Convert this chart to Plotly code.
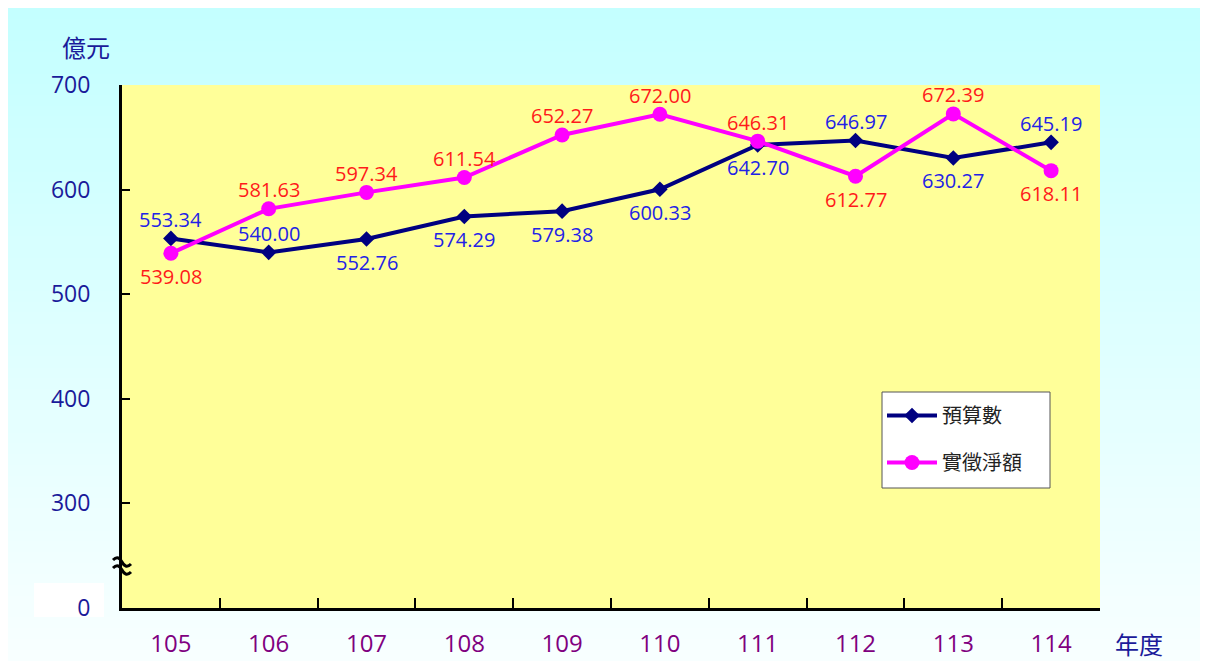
import plotly.graph_objects as go

years = ["105", "106", "107", "108", "109", "110", "111", "112", "113", "114"]
budget = [553.34, 540.00, 552.76, 574.29, 579.38, 600.33, 642.70, 646.97, 630.27, 645.19]
actual = [539.08, 581.63, 597.34, 611.54, 652.27, 672.00, 646.31, 612.77, 672.39, 618.11]
budget_side = ["up", "up", "down", "down", "down", "down", "down", "up", "down", "up"]
actual_side = ["down", "up", "up", "up", "up", "up", "up", "down", "up", "down"]
y_tickvals = [200, 300, 400, 500, 600, 700]
y_ticktext = ["0", "300", "400", "500", "600", "700"]

OFF = 8  # page body margin
W, H = 1208 - OFF, 661 - OFF
# plot area in reference (screen) pixels
L, R, T, B = 122, 1100, 85, 608
FONT = "Open Sans, Noto Sans CJK TC, sans-serif"
CJK = "Noto Sans CJK TC, sans-serif"

fig = go.Figure()
fig.add_trace(go.Scatter(
    x=years, y=budget, name="預算數", mode="lines+markers",
    line=dict(color="#000080", width=4),
    marker=dict(symbol="diamond", size=12, color="#000080"),
    legendgroup="a", cliponaxis=False,
))
fig.add_trace(go.Scatter(
    x=years, y=actual, name="實徵淨額", mode="lines+markers",
    line=dict(color="#FF00FF", width=4),
    marker=dict(symbol="circle", size=15, color="#FF00FF"),
    legendgroup="b", cliponaxis=False,
))

def px_x(p):
    return (p - L) / (R - L)

def px_y(p):
    return (B - p) / (B - T)

annotations = []
for vals, sides, color in ((budget, budget_side, "#2222E6"), (actual, actual_side, "#FF1A1A")):
    for i, (v, s) in enumerate(zip(vals, sides)):
        annotations.append(dict(
            x=i, y=v, xref="x", yref="y", text=f"{v:.2f}", showarrow=False,
            xanchor="center", yanchor="middle", yshift=19 if s == "up" else -23,
            font=dict(size=20, color=color, family=FONT)))

annotations += [
    dict(text="億元", xref="paper", yref="paper", x=px_x(86), y=px_y(47),
         xanchor="center", yanchor="middle", showarrow=False,
         font=dict(size=24, color="#1A1A9A", family=CJK)),
    dict(text="年度", xref="paper", yref="paper", x=px_x(1139), y=px_y(643),
         xanchor="center", yanchor="middle", showarrow=False,
         font=dict(size=24, color="#1A1A9A", family=CJK)),
]

shapes = []
# gradient background strips
top, bottom = OFF, 661
n = 60
c0 = (196, 255, 255)
c1 = (248, 255, 255)
for i in range(n):
    y0p = top + (bottom - top) * i / n
    y1p = top + (bottom - top) * (i + 1) / n + 1
    t = i / (n - 1)
    col = tuple(round(c0[k] + (c1[k] - c0[k]) * t) for k in range(3))
    shapes.append(dict(type="rect", xref="paper", yref="paper", layer="below",
                       x0=px_x(0), x1=px_x(1220), y0=px_y(y1p), y1=px_y(y0p),
                       line=dict(width=0), fillcolor="rgb(%d,%d,%d)" % col))
# white box behind "0"
shapes.append(dict(type="rect", xref="paper", yref="paper", layer="below",
                   x0=px_x(34), x1=px_x(104), y0=px_y(617), y1=px_y(583),
                   line=dict(width=0), fillcolor="#FFFFFF"))
# yellow plot area
shapes.append(dict(type="rect", xref="paper", yref="paper", layer="below",
                   x0=0, x1=1, y0=0, y1=1, line=dict(width=0), fillcolor="#FFFF99"))
# legend box
shapes.append(dict(type="rect", xref="paper", yref="paper", layer="above",
                   x0=px_x(882), x1=px_x(1050), y0=px_y(488), y1=px_y(392),
                   line=dict(color="#555555", width=1), fillcolor="#FFFFFF"))
# axis break symbol
for dy in (-4, 4):
    shapes.append(dict(type="path", xref="paper", yref="paper",
                       xsizemode="pixel", ysizemode="pixel",
                       xanchor=0, yanchor=px_y(566),
                       path=f"M -9,{dy+2} C -5,{dy+6} -2,{dy+4} 0,{dy} C 2,{dy-4} 5,{dy-6} 9,{dy-2}",
                       line=dict(color="black", width=3)))

fig.update_layout(
    width=W, height=H,
    margin=dict(l=L - OFF, r=1208 - R, t=T - OFF, b=661 - B, autoexpand=False),
    paper_bgcolor="white", plot_bgcolor="rgba(0,0,0,0)",
    shapes=shapes,
    annotations=annotations,
    showlegend=True,
    legend=dict(x=px_x(882), y=px_y(396), xanchor="left", yanchor="top",
                bgcolor="rgba(0,0,0,0)", borderwidth=0,
                font=dict(size=20, family=CJK, color="#222222"),
                traceorder="grouped", tracegroupgap=18, itemwidth=50),
    xaxis=dict(type="category", showgrid=False, showline=True, linecolor="black",
               linewidth=3, ticks="inside", ticklen=10, tickwidth=2, tickcolor="black",
               tickson="boundaries", tickfont=dict(size=24, color="#800080", family=FONT),
               ticklabelstandoff=12, range=[-0.5, 9.5], zeroline=False, automargin=False),
    yaxis=dict(range=[200, 700], tickvals=y_tickvals, ticktext=y_ticktext,
               showgrid=False, showline=True, linecolor="black", linewidth=3,
               ticks="inside", ticklen=8, tickwidth=2, tickcolor="black",
               tickfont=dict(size=23, color="#1A1A9A", family=FONT),
               ticklabelstandoff=24, zeroline=False, automargin=False),
)

fig.write_html("out.html")
